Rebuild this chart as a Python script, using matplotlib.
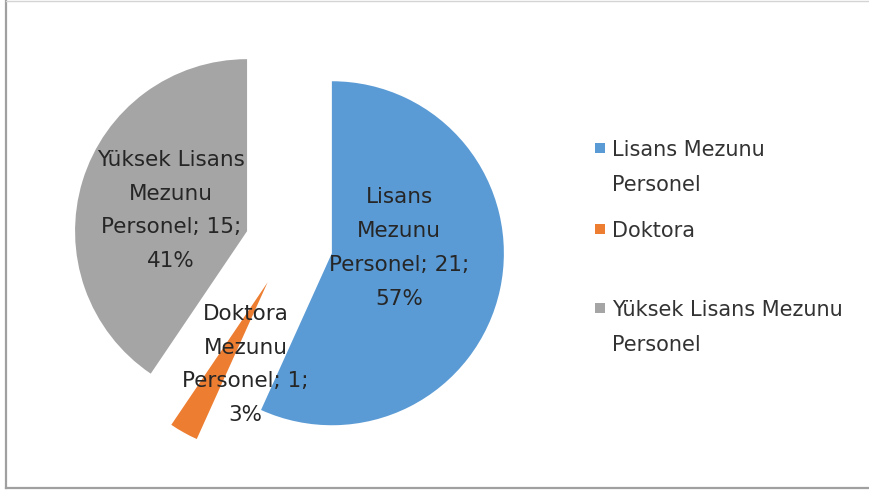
import textwrap
import matplotlib
matplotlib.use("Agg")
import matplotlib.pyplot as plt
from matplotlib.transforms import Affine2D
from matplotlib.patches import Rectangle
from matplotlib.lines import Line2D

# ---- data ----
categories = ["Lisans Mezunu Personel", "Doktora", "Yüksek Lisans Mezunu Personel"]
label_names = ["Lisans\nMezunu\nPersonel", "Doktora\nMezunu\nPersonel", "Yüksek Lisans\nMezunu\nPersonel"]
values = [21, 1, 15]
colors = ["#5B9BD5", "#ED7D31", "#A5A5A5"]

# ---- layout ----
W, H = 869, 492
fig = plt.figure(figsize=(W / 100, H / 100), dpi=100)
fig.patch.set_facecolor("white")
px = Affine2D().scale(1 / W, -1 / H).translate(0, 1) + fig.transFigure

cx, cy, R = 289, 244, 172      # pie centre (px from top-left) and radius (px)
L = 1.4
half = L * R
ax = fig.add_axes([(cx - half) / W, (H - cy - half) / H, 2 * half / W, 2 * half / H])
wedges, _ = ax.pie(values, colors=colors, startangle=90, counterclock=False,
                   explode=[0.255] * len(values), radius=1,
                   wedgeprops=dict(linewidth=0))
ax.set_xlim(-L, L)
ax.set_ylim(-L, L)
ax.set_aspect("auto")
ax.axis("off")

# data labels
label_xy = [(0.640, -0.023), (-0.253, -0.701), (-0.686, 0.195)]
total = sum(values)
for name, v, (x, y) in zip(label_names, values, label_xy):
    pct = round(100 * v / total)
    ax.text(x, y, f"{name}; {v};\n{pct}%", ha="center", va="center",
            fontsize=15.5, linespacing=1.86, color="#262626",
            family="DejaVu Sans")

# legend (manual)
legend_y = [148, 229, 308]
for cat, col, yc in zip(categories, colors, legend_y):
    fig.patches.append(Rectangle((595, yc - 5), 10, 10, transform=px,
                                 facecolor=col, edgecolor="none"))
    fig.text(612, yc - 8.4, textwrap.fill(cat, 20), transform=px,
             ha="left", va="top", fontsize=15, linespacing=1.99,
             color="#333333", family="DejaVu Sans")

# chart border
fig.lines.append(Line2D([6, 6], [0, 488], transform=px, color="#a0a0a0", lw=1.6))
fig.lines.append(Line2D([6, 869], [487.5, 487.5], transform=px, color="#a0a0a0", lw=1.6))
fig.lines.append(Line2D([6, 869], [0.5, 0.5], transform=px, color="#d4d4d4", lw=1.0))

fig.savefig("out.png", dpi=100, facecolor="white")
